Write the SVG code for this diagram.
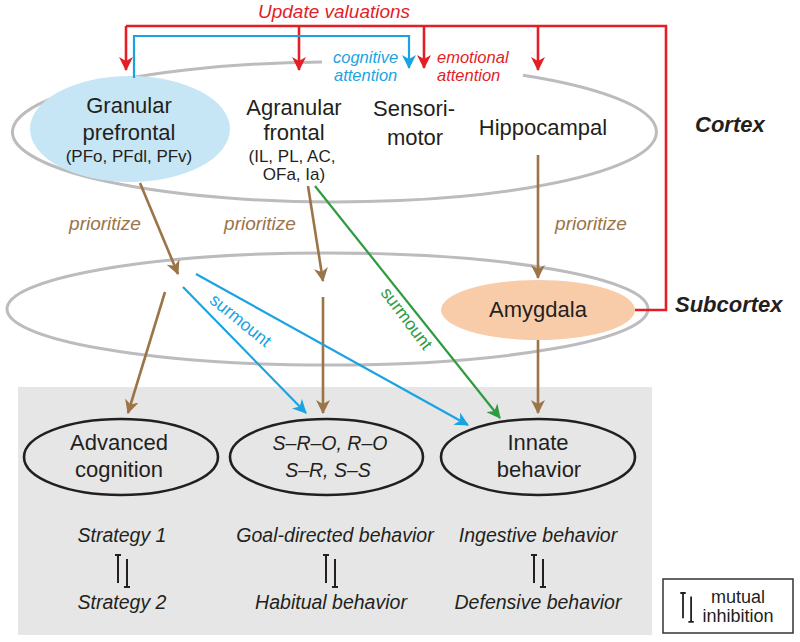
<svg xmlns="http://www.w3.org/2000/svg" width="800" height="642" viewBox="0 0 800 642">
<style>
text{font-family:"Liberation Sans",Arial,sans-serif;fill:#231f20}
.big{font-size:22px}
.sm{font-size:17px}
.att{font-size:16.5px;font-style:italic}
.it{font-style:italic}
.bi{font-size:22px;font-weight:bold;font-style:italic}
.mid{text-anchor:middle}
.reg{fill:none;stroke:#bcbcbe;stroke-width:3}
.beh{fill:none;stroke:#231f20;stroke-width:2.6}
.red{stroke:#e31e27;stroke-width:2.6;fill:none}
.blue{stroke:#1aa3e2;stroke-width:2.2;fill:none}
.brown{stroke:#9b7447;stroke-width:2.6;fill:none}
.green{stroke:#2e9b3f;stroke-width:2.2;fill:none}
.mi{stroke:#231f20;stroke-width:2;fill:none}
.pri{font-size:19px;font-style:italic;fill:#9b7447}
.beht{font-size:19.5px;font-style:italic}
</style>
<defs>
<marker id="ar" markerUnits="userSpaceOnUse" viewBox="0 0 14 14" refX="13" refY="7" markerWidth="14" markerHeight="14" orient="auto"><path d="M0,0 L14,7 L0,14 L4,7 z" fill="#e31e27"/></marker>
<marker id="ab" markerUnits="userSpaceOnUse" viewBox="0 0 14 14" refX="13" refY="7" markerWidth="14" markerHeight="14" orient="auto"><path d="M0,0 L14,7 L0,14 L4,7 z" fill="#1aa3e2"/></marker>
<marker id="abr" markerUnits="userSpaceOnUse" viewBox="0 0 14 14" refX="13" refY="7" markerWidth="14" markerHeight="14" orient="auto"><path d="M0,0 L14,7 L0,14 L4,7 z" fill="#9b7447"/></marker>
<marker id="ag" markerUnits="userSpaceOnUse" viewBox="0 0 14 14" refX="13" refY="7" markerWidth="14" markerHeight="14" orient="auto"><path d="M0,0 L14,7 L0,14 L4,7 z" fill="#2e9b3f"/></marker>
<g id="mutinh"><path class="mi" d="M-3,0 H3 M0,0 V28 M9,4 V32 M6,32 H12"/></g>
</defs>

<rect id="behavior-panel" x="18" y="387" width="634" height="248" fill="#e6e6e6"/>

<g id="cortex">
<path class="reg" d="M322,62.05 A322,70 0 1 0 523,75.25"/>
<text class="bi" x="695" y="132">Cortex</text>
</g>
<g id="subcortex">
<ellipse class="reg" cx="327.5" cy="309" rx="320.5" ry="56"/>
<text class="bi" x="675" y="312">Subcortex</text>
</g>

<g id="granular-prefrontal">
<ellipse cx="130" cy="129" rx="100" ry="53" fill="#c6e6f6"/>
<text class="big mid" x="129" y="113">Granular</text>
<text class="big mid" x="129" y="140">prefrontal</text>
<text class="sm mid" x="129" y="162">(PFo, PFdl, PFv)</text>
</g>
<g id="agranular-frontal">
<text class="big mid" x="294" y="115">Agranular</text>
<text class="big mid" x="294" y="140">frontal</text>
<text class="sm mid" x="292" y="162">(IL, PL, AC,</text>
<text class="sm mid" x="294" y="180">OFa, Ia)</text>
</g>
<g id="sensorimotor">
<text class="big mid" x="414" y="116">Sensori-</text>
<text class="big mid" x="415" y="145">motor</text>
</g>
<g id="hippocampal">
<text class="big mid" x="543" y="135">Hippocampal</text>
</g>
<g id="amygdala">
<ellipse cx="538" cy="310" rx="97" ry="30" fill="#f9cca9"/>
<text class="big mid" x="538" y="317">Amygdala</text>
</g>

<g id="advanced-cognition">
<ellipse class="beh" cx="121" cy="457" rx="97" ry="38"/>
<text class="big mid" x="119" y="450">Advanced</text>
<text class="big mid" x="119" y="477">cognition</text>
</g>
<g id="sro">
<ellipse class="beh" cx="326.5" cy="457" rx="96.5" ry="38"/>
<text class="beht mid" x="330" y="450">S–R–O, R–O</text>
<text class="beht mid" x="328" y="477">S–R, S–S</text>
</g>
<g id="innate-behavior">
<ellipse class="beh" cx="538" cy="457" rx="97" ry="38"/>
<text class="big mid" x="538" y="450">Innate</text>
<text class="big mid" x="539" y="477">behavior</text>
</g>

<g id="strategies">
<text class="beht mid" x="122" y="542">Strategy 1</text>
<use href="#mutinh" x="118" y="555"/>
<text class="beht mid" x="122" y="609">Strategy 2</text>
</g>
<g id="goal-habit">
<text class="beht mid" x="335" y="542">Goal-directed behavior</text>
<use href="#mutinh" x="326" y="555"/>
<text class="beht mid" x="331" y="609">Habitual behavior</text>
</g>
<g id="ingestive-defensive">
<text class="beht mid" x="538" y="542">Ingestive behavior</text>
<use href="#mutinh" x="534" y="555"/>
<text class="beht mid" x="538" y="609">Defensive behavior</text>
</g>

<g id="legend">
<rect x="663" y="579" width="130" height="54" fill="#fff" stroke="#333" stroke-width="1.5"/>
<g transform="translate(683,593) scale(0.9)"><path class="mi" d="M-3,0 H3 M0,0 V28 M9,4 V32 M6,32 H12"/></g>
<text class="mid" x="738" y="603" font-size="18">mutual</text>
<text class="mid" x="738" y="622" font-size="18">inhibition</text>
</g>

<g id="connectors">
<path class="red" d="M126,26 H666 V310 H635"/>
<line class="red" x1="126" y1="26" x2="126" y2="70" marker-end="url(#ar)"/>
<line class="red" x1="299" y1="26" x2="299" y2="70" marker-end="url(#ar)"/>
<line class="red" x1="424" y1="26" x2="424" y2="68" marker-end="url(#ar)"/>
<line class="red" x1="538" y1="26" x2="538" y2="70" marker-end="url(#ar)"/>
<path class="blue" d="M134,78 V36 H409 V68" marker-end="url(#ab)"/>
<line class="brown" x1="140" y1="183" x2="178" y2="274" marker-end="url(#abr)"/>
<line class="brown" x1="308" y1="186" x2="323" y2="281" marker-end="url(#abr)"/>
<line class="brown" x1="538" y1="155" x2="538" y2="278" marker-end="url(#abr)"/>
<line class="brown" x1="165" y1="292" x2="128" y2="413" marker-end="url(#abr)"/>
<line class="brown" x1="323" y1="297" x2="323" y2="413" marker-end="url(#abr)"/>
<line class="brown" x1="538" y1="340" x2="538" y2="413" marker-end="url(#abr)"/>
<line class="blue" x1="183" y1="287" x2="306" y2="413" marker-end="url(#ab)"/>
<line class="blue" x1="196" y1="274" x2="468" y2="425" marker-end="url(#ab)"/>
<line class="green" x1="315" y1="186" x2="500" y2="418" marker-end="url(#ag)"/>
<text class="it" x="258" y="18" font-size="19" style="fill:#e31e27">Update valuations</text>
<text class="att" x="333" y="63" style="fill:#1aa3e2">cognitive</text>
<text class="att" x="334" y="81" style="fill:#1aa3e2">attention</text>
<text class="att" x="437" y="63" style="fill:#e31e27">emotional</text>
<text class="att" x="437" y="81" style="fill:#e31e27">attention</text>
<text class="pri mid" x="105" y="230">prioritize</text>
<text class="pri mid" x="260" y="230">prioritize</text>
<text class="pri mid" x="591" y="230">prioritize</text>
<text class="mid" font-size="17.5" transform="translate(240,321) rotate(39)" y="5" style="fill:#1aa3e2">surmount</text>
<text class="mid" font-size="17.5" transform="translate(406,319) rotate(53)" y="5" style="fill:#2e9b3f">surmount</text>
</g>
</svg>
